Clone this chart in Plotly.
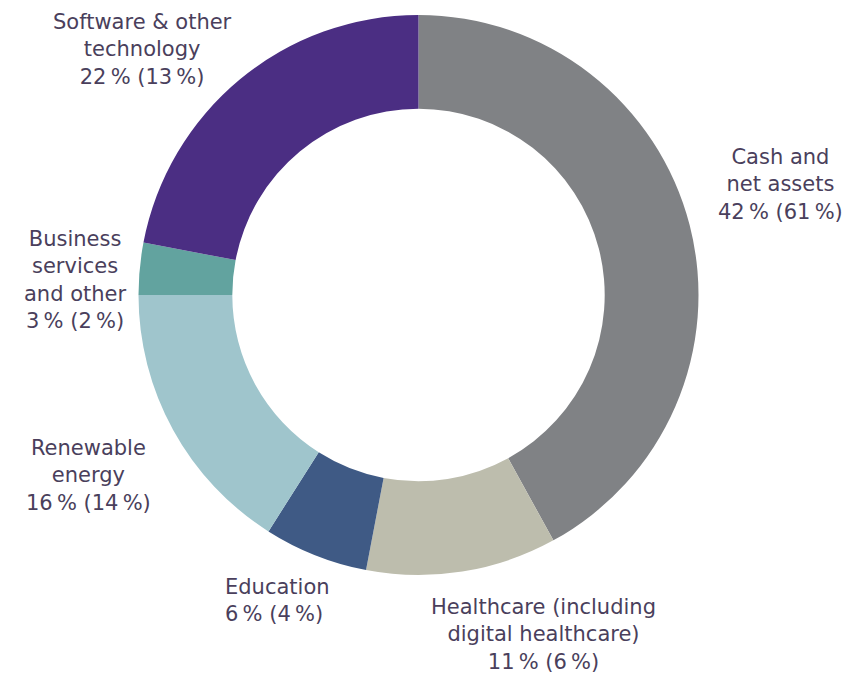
import plotly.graph_objects as go

categories = ["Cash and net assets", "Healthcare (including digital healthcare)", "Education",
              "Renewable energy", "Business services and other", "Software & other technology"]
values = [42, 11, 6, 16, 3, 22]
prior = [61, 6, 4, 14, 2, 13]
label_lines = [
    ["Cash and", "net assets"],
    ["Healthcare (including", "digital healthcare)"],
    ["Education"],
    ["Renewable", "energy"],
    ["Business", "services", "and other"],
    ["Software & other", "technology"],
]
colors = ["#808285", "#bdbdad", "#3f5a85", "#9fc5cc", "#62a39f", "#4b2e83"]

W, H = 851, 676
cx, cy, r = 410.5, 287, 280

fig = go.Figure(go.Pie(
    labels=categories, values=values, sort=False, direction="clockwise", rotation=0,
    hole=0.665, textinfo="none", hoverinfo="label+percent",
    marker=dict(colors=colors, line=dict(width=0)),
    domain=dict(x=[(cx - r) / W, (cx + r) / W], y=[(H - cy - r) / H, (H - cy + r) / H]),
    showlegend=False,
))

# label anchor positions (pixels): x, first-line middle y, alignment
pos = [(772, 155, "center"), (535, 605, "center"), (215, 585, "left"),
       (80, 446, "center"), (67, 237, "center"), (134, 20, "center")]
fs = 21
step = fs * 1.3
ts = "\u2009"

for lines, v, p, (x, y, al) in zip(label_lines, values, prior, pos):
    all_lines = lines + [f"{v}{ts}% ({p}{ts}%)"]
    ymid = y + (len(all_lines) - 1) / 2 * step - 6
    fig.add_annotation(x=x / W, y=1 - ymid / H, xref="paper", yref="paper",
                       text="<br>".join(all_lines),
                       showarrow=False, xanchor="left" if al == "left" else "center",
                       yanchor="middle", align=al,
                       font=dict(family="DejaVu Sans", size=fs, color="#4a3f5c"))

fig.update_layout(width=W, height=H, margin=dict(l=0, r=0, t=0, b=0),
                  paper_bgcolor="white", plot_bgcolor="white")
fig.write_html("out.html")
